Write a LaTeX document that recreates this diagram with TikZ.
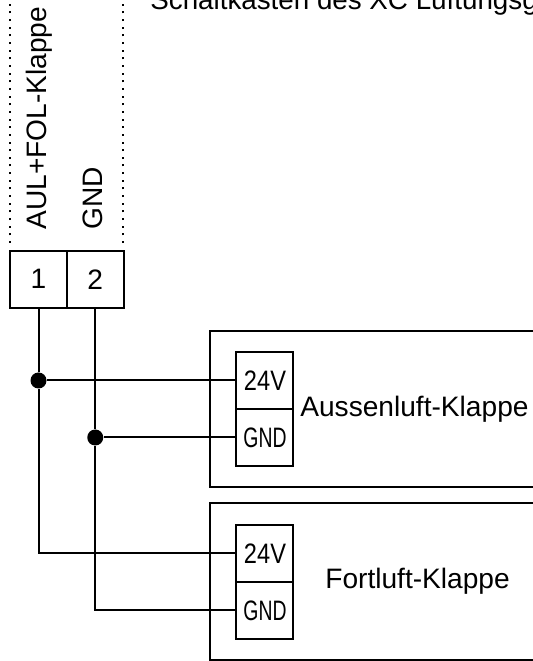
\documentclass[tikz,border=0pt]{standalone}
\usepackage{fontspec}
\setmainfont{Liberation Sans}
\tikzset{
    klemme/.style={draw,line width=0.04cm,minimum width=1.14cm,minimum height=1.14cm,inner sep=0pt},
    anschluss/.style={draw,line width=0.04cm,minimum width=1.14cm,minimum height=1.14cm,inner sep=0pt},
    punkt/.style={circle,fill=black,inner sep=0pt,minimum size=0.32cm},
    draht/.style={line width=0.04cm},
    gehaeuse/.style={line width=0.04cm},
    punktlinie/.style={line width=0.04cm,dash pattern=on 0.04cm off 0.113cm},
    beschriftung/.style={font=\fontsize{16}{18}\selectfont,inner sep=0pt},
    schmal/.style={font=\fontsize{16}{18}\selectfont,inner sep=0pt,xscale=0.84},
    schmaler/.style={font=\fontsize{16}{18}\selectfont,inner sep=0pt,xscale=0.69}
}
\begin{document}
\begin{tikzpicture}
    \useasboundingbox (0,0) rectangle (10.66,13.22);
    \clip (0,0) rectangle (10.66,13.22);
    \draw[punktlinie] (0.2,8.36) -- (0.2,13.22);
    \draw[punktlinie] (2.46,8.36) -- (2.46,13.22);
    \node[font=\fontsize{15.8}{18}\selectfont,inner sep=0pt,anchor=base west] (titel) at (3.0,13.02) {Schaltkasten des XC Lüftungsg};
    \node[beschriftung,rotate=90,anchor=west] (aul) at (0.79,8.62) {AUL+FOL-Klappe};
    \node[beschriftung,rotate=90,anchor=west] (gnd) at (1.85,8.62) {GND};
    % Klemmen
    \node[klemme] (k1) at (0.77,7.636) {\fontsize{16}{18}\selectfont 1};
    \node[klemme] (k2) at (1.905,7.636) {\fontsize{16}{18}\selectfont 2};
    % Klappen
    \draw[gehaeuse] (10.8,6.606) -| (4.206,3.486) -- (10.8,3.486);
    \draw[gehaeuse] (10.8,3.16) -| (4.206,0.026) -- (10.8,0.026);
    \node[anschluss] (a24) at (5.29,5.61) {};
    \node[anschluss] (agnd) at (5.29,4.47) {};
    \node[anschluss] (f24) at (5.29,2.15) {};
    \node[anschluss] (fgnd) at (5.29,1.01) {};
    \node[schmal] (a24t) at (5.3,5.61) {24V};
    \node[schmaler] (agndt) at (5.3,4.47) {GND};
    \node[schmal] (f24t) at (5.3,2.15) {24V};
    \node[schmaler] (fgndt) at (5.3,1.01) {GND};
    \node[beschriftung,anchor=west] (aussen) at (6.0,5.04) {Aussenluft-Klappe};
    \node[beschriftung,anchor=west] (fort) at (6.5,1.6) {Fortluft-Klappe};
    % Leitungen
    \node[punkt] (p1) at (k1.south |- a24.west) {};
    \node[punkt] (p2) at (k2.south |- agnd.west) {};
    \draw[draht] (k1.south) -- (p1) -- (a24.west);
    \draw[draht] (k2.south) -- (p2) -- (agnd.west);
    \draw[draht] (p1) |- (f24.west);
    \draw[draht] (p2) |- (fgnd.west);
\end{tikzpicture}
\end{document}
